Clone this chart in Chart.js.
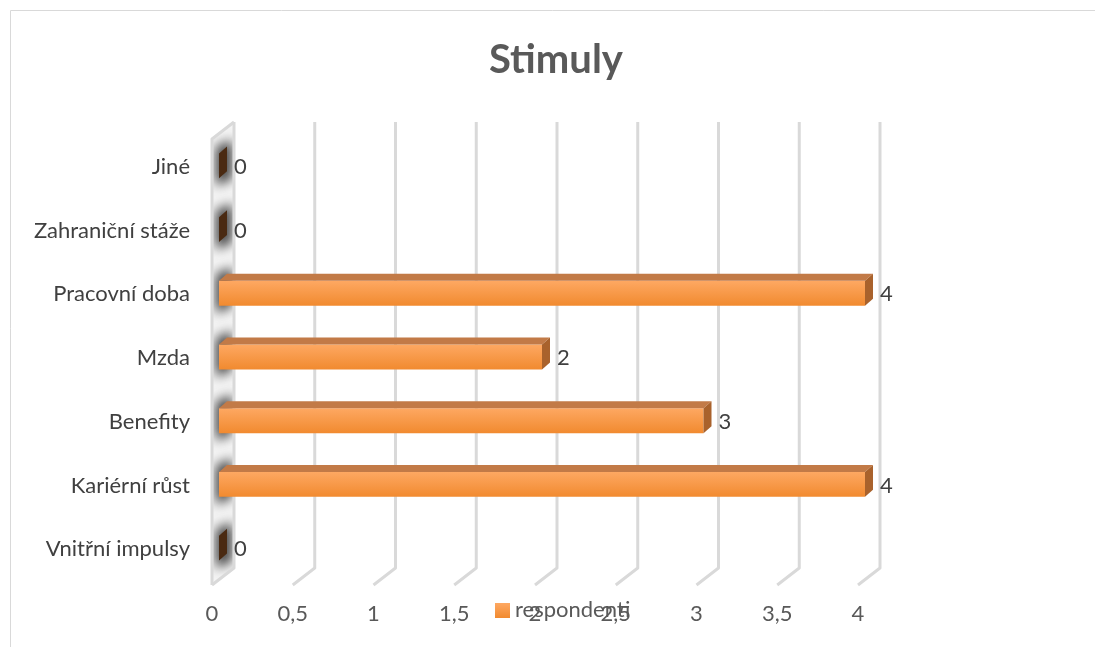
<!DOCTYPE html>
<html>
<head>
<meta charset="utf-8">
<script src="https://cdn.jsdelivr.net/npm/chart.js@4.4.0/dist/chart.umd.min.js"></script>
<style>
  html, body { margin: 0; padding: 0; background: #fff; }
  canvas { display: block; }
</style>
</head>
<body>
<canvas id="chart" width="1095" height="647"></canvas>
<script>
// data (top to bottom as shown)
const categories = ['Jiné', 'Zahraniční stáže', 'Pracovní doba', 'Mzda', 'Benefity', 'Kariérní růst', 'Vnitřní impulsy'];
const respondenti = [0, 0, 4, 2, 3, 4, 0];
const xTicks = [0, 0.5, 1, 1.5, 2, 2.5, 3, 3.5, 4];
const seriesName = 'respondenti';
const chartTitle = 'Stimuly';

const FONT = 'Lato, "Open Sans", sans-serif';
const WALL_DX = 22, WALL_DY = 17;   // back wall offset
const BAR_DX = 7, BAR_DY = -5;      // bars sit a little into the depth
const FACE_DX = 8, FACE_DY = 7;     // bar depth
const GRID = '#d9d9d9';

function orangeGradient(ctx, top, bottom) {
  if (!isFinite(top) || !isFinite(bottom)) return '#f79646';
  const g = ctx.createLinearGradient(0, top, 0, bottom);
  g.addColorStop(0, '#fea862');
  g.addColorStop(1, '#f18a2f');
  return g;
}

function poly(ctx, pts, fill) {
  ctx.beginPath();
  ctx.moveTo(pts[0][0], pts[0][1]);
  for (let i = 1; i < pts.length; i++) ctx.lineTo(pts[i][0], pts[i][1]);
  ctx.closePath();
  ctx.fillStyle = fill;
  ctx.fill();
}

const stage3d = {
  id: 'stage3d',
  beforeDraw(chart) {
    const ctx = chart.ctx;
    ctx.save();
    ctx.strokeStyle = GRID;
    ctx.lineWidth = 1;
    ctx.beginPath();
    ctx.moveTo(10.5, chart.height);
    ctx.lineTo(10.5, 10.5);
    ctx.lineTo(chart.width, 10.5);
    ctx.stroke();
    ctx.restore();
  },
  beforeDatasetsDraw(chart) {
    const ctx = chart.ctx;
    const a = chart.chartArea;
    const xs = chart.scales.x, ys = chart.scales.y;
    const L = a.left, T = a.top, B = a.bottom;

    // side wall with the blurred shadows of the bars
    const wall = [[L, T], [L + WALL_DX, T - WALL_DY], [L + WALL_DX, B - WALL_DY], [L, B]];
    ctx.save();
    poly(ctx, wall, '#f4f4f4');
    ctx.clip();
    ctx.filter = 'blur(6px)';
    categories.forEach((c, i) => {
      const yc = ys.getPixelForValue(i) + BAR_DY - 3;
      poly(ctx, [[L + 4, yc - 16], [L + WALL_DX - 2, yc - 23], [L + WALL_DX - 2, yc + 16], [L + 4, yc + 23]], 'rgba(40,40,40,0.9)');
    });
    ctx.restore();

    // grid lines bent onto the floor
    ctx.save();
    ctx.strokeStyle = GRID;
    ctx.lineWidth = 3;
    ctx.lineJoin = 'round';
    xTicks.forEach(v => {
      const fx = xs.getPixelForValue(v);
      ctx.beginPath();
      ctx.moveTo(fx + WALL_DX, T - WALL_DY);
      ctx.lineTo(fx + WALL_DX, B - WALL_DY);
      ctx.lineTo(fx, B);
      ctx.stroke();
    });
    ctx.beginPath();
    ctx.moveTo(L + WALL_DX, T - WALL_DY);
    ctx.lineTo(L, T);
    ctx.lineTo(L, B);
    ctx.stroke();
    ctx.restore();

    ctx.save();
    ctx.translate(BAR_DX, BAR_DY);
  },
  afterDatasetsDraw(chart) {
    const ctx = chart.ctx;
    ctx.restore();
    const meta = chart.getDatasetMeta(0);
    ctx.save();
    meta.data.forEach((el, i) => {
      const p = el.getProps(['x', 'y', 'base', 'height'], true);
      const x0 = p.base + BAR_DX, x1 = p.x + BAR_DX;
      const top = p.y - p.height / 2 + BAR_DY, bot = p.y + p.height / 2 + BAR_DY;
      if (x1 - x0 > 0.5) {
        poly(ctx, [[x0, top], [x1, top], [x1 + FACE_DX, top - FACE_DY], [x0 + FACE_DX, top - FACE_DY]], '#c27a47');
      }
      poly(ctx, [[x1, top], [x1 + FACE_DX, top - FACE_DY], [x1 + FACE_DX, bot - FACE_DY], [x1, bot]],
        respondenti[i] > 0 ? '#a9622c' : '#4a2a12');
      ctx.fillStyle = '#404040';
      ctx.font = '22px ' + FONT;
      ctx.textAlign = 'left';
      ctx.textBaseline = 'middle';
      ctx.fillText(String(respondenti[i]), x1 + FACE_DX + 7, p.y + BAR_DY + 1);
    });
    ctx.restore();
  },
  afterDraw(chart) {
    // legend sits over the axis labels, as in the original
    const ctx = chart.ctx;
    ctx.save();
    ctx.fillStyle = orangeGradient(ctx, 603, 618);
    ctx.fillRect(495, 603, 15, 15);
    ctx.fillStyle = '#595959';
    ctx.font = '22px ' + FONT;
    ctx.textAlign = 'left';
    ctx.textBaseline = 'middle';
    ctx.fillText(chart.data.datasets[0].label, 515, 610);
    ctx.restore();
  }
};

new Chart(document.getElementById('chart'), {
  type: 'bar',
  data: {
    labels: categories,
    datasets: [{
      label: seriesName,
      data: respondenti,
      backgroundColor: c => {
        const ys = c.chart.scales.y;
        const yc = ys ? ys.getPixelForValue(c.dataIndex) : NaN;
        return orangeGradient(c.chart.ctx, yc - 12.5, yc + 12.5);
      },
      borderWidth: 0,
      categoryPercentage: 1,
      barPercentage: 0.39,
      clip: false
    }]
  },
  options: {
    indexAxis: 'y',
    responsive: false,
    animation: false,
    layout: { padding: { left: 17, right: 0, top: 0, bottom: 0 } },
    plugins: {
      legend: { display: false },
      tooltip: { enabled: false },
      title: {
        display: true,
        text: chartTitle,
        color: '#595959',
        font: { family: FONT, size: 40, weight: 'bold' },
        padding: { top: 36, bottom: 55 }
      }
    },
    scales: {
      x: {
        type: 'linear',
        min: 0,
        max: 4,
        grid: { display: false, drawTicks: false },
        border: { display: false },
        afterBuildTicks: s => { s.ticks = xTicks.map(v => ({ value: v })); },
        ticks: {
          padding: 16,
          color: '#595959',
          font: { family: FONT, size: 22 },
          callback: v => String(v).replace('.', ',')
        },
        afterFit: s => { s.height = 62; }
      },
      y: {
        grid: { display: false, drawTicks: false },
        border: { display: false },
        ticks: {
          padding: 22,
          labelOffset: -4,
          color: '#404040',
          font: { family: FONT, size: 22 }
        },
        afterFit: s => { s.width = 195; }
      },
      yRight: {
        type: 'linear',
        position: 'right',
        grid: { display: false, drawTicks: false },
        border: { display: false },
        ticks: { display: false },
        afterFit: s => { s.width = 237; }
      }
    }
  },
  plugins: [stage3d]
});
</script>
</body>
</html>
